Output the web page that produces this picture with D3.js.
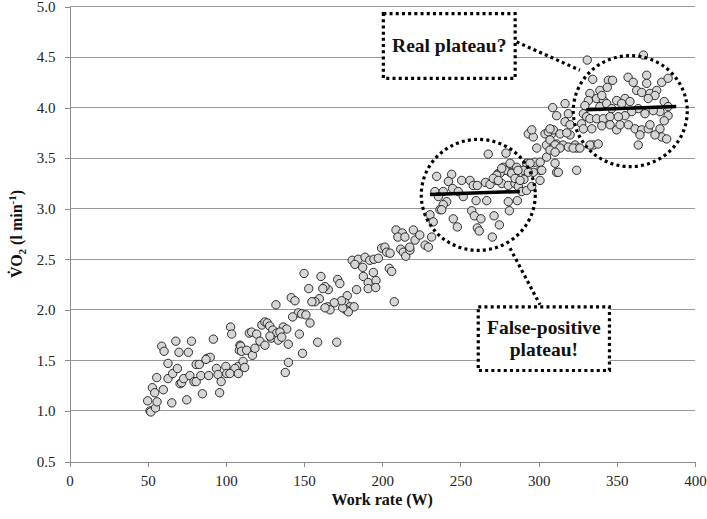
<!DOCTYPE html>
<html lang="en">
  <head>
    <meta charset="UTF-8">
    <title>VO2 vs work rate</title>
    <script src="https://d3js.org/d3.v7.min.js"></script>
    <style>
      body { margin: 0; background: #fff; }
      svg text { font-family: "Liberation Serif", "Tinos", "DejaVu Serif", serif; }
      .axis path, .axis line { stroke: #8c8c8c; shape-rendering: crispEdges; }
      .axis text { font-size: 15px; fill: #222; }
      .grid line { stroke: #9a9a9a; shape-rendering: crispEdges; }
      .title { font-size: 16px; font-weight: bold; fill: #111; }
      .note { font-size: 19.5px; font-weight: bold; fill: #111; }
      .dots { fill: none; stroke: #000; stroke-width: 3.2; stroke-dasharray: 3 3.2; }
    </style>
  </head>
  <body>
    <script>
      const xTicks = [0, 50, 100, 150, 200, 250, 300, 350, 400];
      const yTicks = [0.5, 1.0, 1.5, 2.0, 2.5, 3.0, 3.5, 4.0, 4.5, 5.0];

      // work rate (W) and VO2 (l/min) for each breath average
      const workRate = [
        50, 51.5, 52, 55, 56, 53, 54.5, 55.8, 59, 60.5, 60, 63, 63, 66, 65.4, 68, 69, 70, 70.7, 71.7,
        73, 75, 76, 78, 77, 79.6, 81, 83, 81, 84, 85, 88, 90, 89, 92, 94, 95, 96, 97, 100,
        100.5, 103, 103.7, 105.8, 107.8, 108.6, 109,
        132, 87.3, 105.8, 111, 112, 115, 116.5, 119.7, 109.5, 110, 113.3, 117, 118.6, 121.8, 123, 125, 126.5, 128, 130,
        132.5, 125, 129, 133.5, 102.6, 108,
        138, 140, 149,
        208.8, 212.8, 210, 199.6, 201.7, 202.8, 205, 211.8, 213.5, 215, 217.7, 180.8, 184.7, 182.5, 189, 192, 194.7, 197.5, 187.5, 194.3,
        187.9, 191, 196, 191, 195.8, 204.5, 206, 207.7, 183.6, 177.6, 176.2, 179.4, 182, 176.8, 178.3, 174.7, 171.5, 172.9, 174, 169.3,
        165, 166.6, 163.4, 165.5, 163.4, 160.8, 162, 159.8, 157, 155, 153, 150, 141.8, 144.2, 146.3, 148.5, 151.2, 153.8, 147, 139.9,
        158.7, 170.9, 136.7, 138.9, 134.6, 135.7, 142.7, 128.2,
        267.8, 279.1, 234.8, 244.4, 242.3, 250.8, 233.7, 239, 245, 248.6, 256.1, 258.2, 260.8, 266, 268.9, 274.2, 273.2, 277.4, 281.7, 284.9,
        276.4, 280.6, 284.9, 287, 290.6, 289.2, 235.9, 241.2, 239, 236.9, 230.5, 232.6, 238, 251.8, 260, 266.8, 280.6, 286.4, 281.3, 257.2,
        245.4, 258.9, 263.1, 271.5, 248, 260.8, 262, 274.9, 270.4, 231.6, 214.5, 219.9, 221, 224, 217.6, 227.4, 229.5, 292.3, 295.6, 292.3,
        297.7, 300.9, 296.6, 310.5, 311.5, 324.3, 300.9, 305.1, 293.4, 296.6, 304.1, 308.4, 311.5, 320.1, 323.3, 335, 315.6, 305, 309,
        309, 316.9, 311.5, 319, 316.9, 295.6, 306.2, 309.4, 313.7, 318, 307.3, 310.5, 313.7, 324.3, 298.8, 307.3, 310.5, 301, 312.6, 294.5,
        290.2, 293.4, 302, 281.7, 278.5, 282.8, 284.9, 288.1, 286, 286.8, 275.3, 276.4, 273.2, 271, 274.2,
        331.1, 334.6, 339.2, 344.6, 347.3, 343.9, 332.8, 331.8, 329.6, 328.6, 330.7, 327.5, 337.1, 341.4, 339.2, 343.5, 349.9, 346.7, 332.8, 337.1,
        341.4, 345.7, 328.6, 334, 340.4, 345.7, 349.9, 332.8, 338.1, 320.1, 307.3, 319, 322.1, 326.4, 340.4,
        367, 357.2, 360.5, 369.1, 369.1, 362.7, 365.9, 371.2, 375.5, 378.7, 382.8, 374.4, 370.1, 355.2, 358.4, 353.1, 380.3, 382.8, 377.6, 382.8,
        373.3, 368, 363.7, 359.5, 355.2, 351, 352.1, 357.4, 361.7, 365.9, 370.1, 377.6, 380.3, 378.7, 381.9, 374.4, 364.8, 363.7, 371.2
      ];
      const vo2 = [
        1.10, 1.00, 0.99, 1.03, 1.09, 1.23, 1.18, 1.33, 1.64, 1.59, 1.21, 1.47, 1.32, 1.37, 1.08, 1.69, 1.42, 1.58, 1.27, 1.28,
        1.32, 1.11, 1.58, 1.69, 1.35, 1.29, 1.46, 1.46, 1.29, 1.35, 1.17, 1.52, 1.53, 1.35, 1.71, 1.42, 1.36, 1.18, 1.29, 1.44,
        1.37, 1.83, 1.76, 1.39, 1.44, 1.60, 1.65,
        2.05, 1.51, 1.42, 1.49, 1.43, 1.77, 1.78, 1.76, 1.64, 1.59, 1.60, 1.55, 1.62, 1.69, 1.85, 1.88, 1.87, 1.84, 1.80,
        1.77, 1.65, 1.72, 1.70, 1.37, 1.37,
        1.38, 1.48, 1.57,
        2.79, 2.76, 2.72, 2.61, 2.62, 2.57, 2.56, 2.60, 2.57, 2.53, 2.59, 2.49, 2.50, 2.45, 2.52, 2.49, 2.50, 2.51, 2.42, 2.37,
        2.33, 2.27, 2.29, 2.21, 2.22, 2.41, 2.38, 2.08, 2.20, 2.14, 2.07, 2.03, 2.03, 2.00, 1.98, 2.02, 2.30, 2.26, 2.09, 2.07,
        2.03, 2.00, 2.02, 2.20, 2.23, 2.33, 2.21, 2.11, 2.08, 2.08, 2.21, 2.36, 2.12, 2.09, 1.97, 1.96, 1.95, 1.87, 1.76, 1.66,
        1.68, 1.68, 1.83, 1.81, 1.78, 1.73, 1.93, 1.74,
        3.54, 3.55, 3.32, 3.34, 3.27, 3.28, 3.17, 3.17, 3.20, 3.17, 3.28, 3.23, 3.23, 3.26, 3.24, 3.35, 3.28, 3.41, 3.36, 3.32,
        3.25, 3.23, 3.25, 3.22, 3.29, 3.17, 3.12, 3.07, 3.04, 2.99, 2.94, 2.87, 2.99, 3.12, 3.08, 3.08, 3.07, 3.08, 2.98, 2.98,
        2.90, 2.93, 2.90, 2.93, 2.82, 2.81, 2.78, 2.84, 2.72, 2.72, 2.72, 2.79, 2.69, 2.74, 2.62, 2.64, 2.62, 3.18, 3.22, 3.45,
        3.46, 3.38, 3.36, 3.45, 3.36, 3.38, 3.28, 3.51, 3.74, 3.71, 3.74, 3.74, 3.64, 3.73, 3.63, 3.63, 3.63, 3.63, 3.60,
        4.00, 4.04, 3.92, 3.94, 3.86, 3.78, 3.76, 3.78, 3.74, 3.75, 3.68, 3.63, 3.60, 3.60, 3.60, 3.58, 3.56, 3.46, 3.36, 3.45,
        3.38, 3.36, 3.38, 3.45, 3.38, 3.35, 3.30, 3.28, 3.41, 3.38, 3.35, 3.40, 3.33, 3.30, 3.28,
        4.47, 4.28, 4.17, 4.27, 4.27, 4.20, 4.14, 4.07, 4.02, 3.94, 3.91, 3.84, 4.09, 4.07, 4.01, 4.04, 4.07, 3.99, 3.89, 3.89,
        3.89, 3.91, 3.79, 3.79, 3.82, 3.83, 3.78, 3.63, 3.64, 3.83, 3.79, 3.61, 3.60, 3.60, 4.12,
        4.52, 4.30, 4.25, 4.32, 4.24, 4.17, 4.15, 4.14, 4.17, 4.25, 4.29, 4.12, 4.09, 4.09, 4.06, 4.04, 4.06, 4.01, 3.96, 3.92,
        3.97, 3.94, 3.99, 3.96, 3.92, 3.91, 3.83, 3.83, 3.79, 3.78, 3.79, 3.79, 3.87, 3.71, 3.69, 3.73, 3.73, 3.63, 3.83
      ];

      // plateau fits, highlight circles and callout boxes (data units)
      const plateauLines = [[230.5, 3.14, 288, 3.17], [330.5, 3.98, 388, 4.01]];
      const circles = [[261.4, 3.137], [358.6, 3.965]];
      const boxes = [
        { x0: 200.7, x1: 285, y0: 4.93, y1: 4.29, lines: ["Real plateau?"] },
        { x0: 261.4, x1: 345.3, y0: 2.03, y1: 1.40, lines: ["False-positive", "plateau!"] }
      ];
      const leaders = [[285.9, 4.65, 326.4, 4.37], [281.7, 2.61, 300.9, 2.05]];

      const width = 707, height = 519;
      const svg = d3.select("body").append("svg").attr("width", width).attr("height", height);
      const x = d3.scaleLinear().domain([0, 400]).range([69.5, 695]);
      const y = d3.scaleLinear().domain([0.5, 5]).range([461.5, 6.5]);

      svg.append("g").attr("class", "grid").selectAll("line").data(yTicks.slice(1)).enter().append("line")
        .attr("x1", x(0)).attr("x2", x(400)).attr("y1", d => y(d)).attr("y2", d => y(d));

      svg.append("g").attr("class", "axis").attr("transform", `translate(0,${y(0.5)})`)
        .call(d3.axisBottom(x).tickValues(xTicks).tickSize(5).tickSizeOuter(0).tickPadding(6))
        .attr("font-family", null).attr("font-size", null)
        .selectAll("text").attr("dy", "0.9em");
      svg.append("g").attr("class", "axis").attr("transform", `translate(${x(0)},0)`)
        .call(d3.axisLeft(y).tickValues(yTicks).tickFormat(d3.format(".1f")).tickSize(5).tickSizeOuter(0).tickPadding(9))
        .attr("font-family", null).attr("font-size", null);

      svg.append("g").selectAll("circle").data(workRate.map((w, i) => [w, vo2[i]])).enter().append("circle")
        .attr("cx", d => x(d[0])).attr("cy", d => y(d[1])).attr("r", 4.2)
        .style("fill", "#d6d6d6").style("stroke", "#1a1a1a").style("stroke-width", 0.9);

      svg.append("g").selectAll("line").data(plateauLines).enter().append("line")
        .attr("x1", d => x(d[0])).attr("y1", d => y(d[1])).attr("x2", d => x(d[2])).attr("y2", d => y(d[3]))
        .style("stroke", "#000").style("stroke-width", 3.5);

      svg.append("g").selectAll("ellipse").data(circles).enter().append("ellipse").attr("class", "dots")
        .attr("cx", d => x(d[0])).attr("cy", d => y(d[1])).attr("rx", 57).attr("ry", 55.5);

      svg.append("g").selectAll("line").data(leaders).enter().append("line").attr("class", "dots")
        .attr("x1", d => x(d[0])).attr("y1", d => y(d[1])).attr("x2", d => x(d[2])).attr("y2", d => y(d[3]));

      boxes.forEach(b => {
        svg.append("rect").attr("class", "dots").style("fill", "#fff")
          .attr("x", x(b.x0)).attr("y", y(b.y0)).attr("width", x(b.x1) - x(b.x0)).attr("height", y(b.y1) - y(b.y0));
        const cx = (x(b.x0) + x(b.x1)) / 2, cy = (y(b.y0) + y(b.y1)) / 2;
        b.lines.forEach((t, i) => {
          svg.append("text").attr("class", "note").attr("text-anchor", "middle")
            .attr("x", cx).attr("y", cy + (i - (b.lines.length - 1) / 2) * 22 + 6).text(t);
        });
      });

      svg.append("text").attr("class", "title").attr("text-anchor", "middle")
        .attr("x", (x(0) + x(400)) / 2).attr("y", 505).text("Work rate (W)");

      const yt = svg.append("text").attr("class", "title").attr("text-anchor", "middle")
        .attr("transform", `translate(22,${(y(0.5) + y(5)) / 2}) rotate(-90)`);
      yt.append("tspan").text("V\u0307O");
      yt.append("tspan").attr("dy", 4).attr("font-size", 11).text("2");
      yt.append("tspan").attr("dy", -4).text(" (l min");
      yt.append("tspan").attr("dy", -6).attr("font-size", 11).text("-1");
      yt.append("tspan").attr("dy", 6).text(")");
    </script>
  </body>
</html>
